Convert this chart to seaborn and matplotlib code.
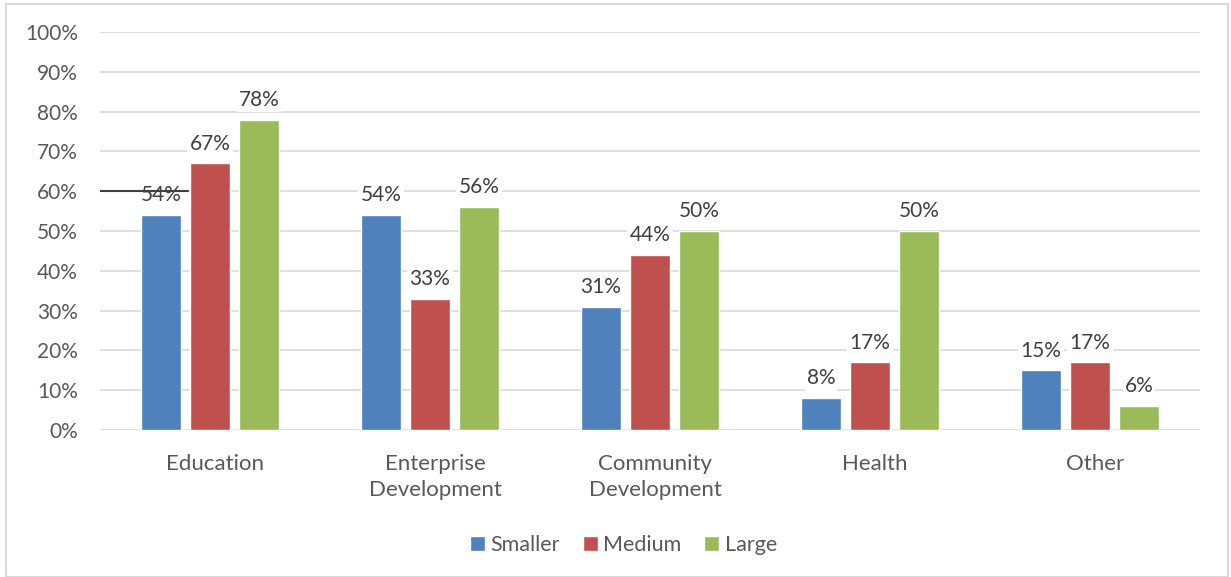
import matplotlib
matplotlib.use("Agg")
import matplotlib.pyplot as plt
import matplotlib.transforms as mtransforms
import seaborn as sns
import pandas as pd
from matplotlib.patches import Rectangle

categories = ["Education", "Enterprise\nDevelopment", "Community\nDevelopment", "Health", "Other"]
series = ["Smaller", "Medium", "Large"]
smaller = [54, 54, 31, 8, 15]
medium = [67, 33, 44, 17, 17]
large = [78, 56, 50, 50, 6]
colors = ["#4F81BD", "#C0504D", "#9BBB59"]

rows = []
for name, vals in zip(series, [smaller, medium, large]):
    for c, v in zip(categories, vals):
        rows.append({"category": c, "size": name, "value": v})
df = pd.DataFrame(rows)

sns.set_style("white")
plt.rcParams["font.family"] = ["Lato", "DejaVu Sans"]

fig = plt.figure(figsize=(12.31, 5.77), dpi=100)
ax = fig.add_axes([100 / 1231, 1 - 430 / 577, 1100 / 1231, 398 / 577])

sns.barplot(data=df, x="category", y="value", hue="size", hue_order=series,
            palette=colors, width=0.668, saturation=1, ax=ax, legend=True)

ax.set_ylim(0, 100)
ax.set_xlim(-0.5, len(categories) - 0.5)
ax.set_yticks(range(0, 101, 10))
ax.set_yticklabels([f"{t}%" for t in range(0, 101, 10)], color="#595959", fontsize=15)
ax.tick_params(axis="x", colors="#595959", labelsize=16, length=0, pad=17)
ax.tick_params(axis="y", length=0, pad=16)
shift = mtransforms.ScaledTranslation(5 / 100, 0, fig.dpi_scale_trans)
for lbl in ax.get_xticklabels():
    lbl.set_linespacing(1.42)
    lbl.set_transform(lbl.get_transform() + shift)
ax.set_xlabel("")
ax.set_ylabel("")
ax.grid(axis="y", color="#D9D9D9", linewidth=1.2)
ax.set_axisbelow(True)
for s in ax.spines.values():
    s.set_visible(False)

# narrow gaps between the bars of a group
for cont in ax.containers:
    for bar in cont:
        w = bar.get_width()
        bar.set_width(w * 0.80)
        bar.set_x(bar.get_x() + w * 0.10)

for cont in ax.containers:
    for bar in cont:
        v = bar.get_height()
        ax.annotate(f"{v:.0f}%", (bar.get_x() + bar.get_width() / 2, v),
                    xytext=(0, 7), textcoords="offset points",
                    ha="center", va="bottom", fontsize=15, color="#404040",
                    bbox=dict(boxstyle="square,pad=0.1", fc="white", ec="none"),
                    zorder=5)

# stray dark rule at the 60% level on the left
ax.plot([-0.5, -0.1], [60, 60], color="#404040", linewidth=1.5, zorder=6)

leg = ax.legend(loc="center", bbox_to_anchor=(0.476, (1 - 545 / 577 - (1 - 430 / 577)) / (398 / 577)),
                ncol=3, frameon=False, fontsize=15.5, handlelength=0.7, handleheight=0.7,
                handletextpad=0.25, columnspacing=1.05)
for t in leg.get_texts():
    t.set_color("#595959")

fig.patches.append(Rectangle((6 / 1231, 0), 1222 / 1231, 1 - 4 / 577, transform=fig.transFigure,
                             fill=False, edgecolor="#D9D9D9", linewidth=1.5))

fig.savefig("out.png", dpi=100)
